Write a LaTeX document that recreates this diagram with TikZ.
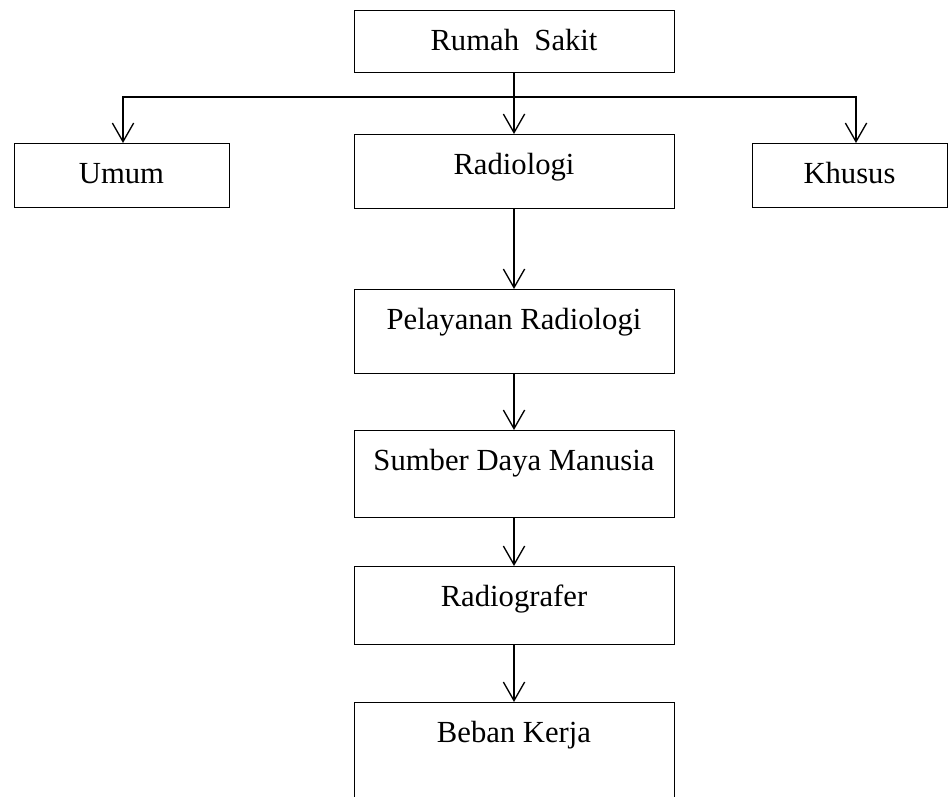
\documentclass[tikz,border=0pt]{standalone}
\usepackage{fontspec}
\setmainfont{Liberation Serif}
\usetikzlibrary{arrows.meta, positioning}

\begin{document}
\begin{tikzpicture}[x=0.75pt, y=-0.75pt,
    box/.style={draw, line width=0.75pt, anchor=north, inner xsep=0pt,
                inner ysep=0pt, minimum width=240pt, text height=30pt,
                font=\fontsize{23}{27}\selectfont},
    arrow/.style={-{Straight Barb[length=14pt, width=16pt]}, line width=1pt},
    branch/.style={{Straight Barb[length=14pt, width=16pt]}-{Straight Barb[length=14pt, width=16pt]},
                   line width=1pt}
  ]
  \useasboundingbox (0,0) rectangle (949,796);

  % top level
  \node[box, text depth=16.5pt] (rs) at (514,10) {Rumah\ \ Sakit};
  \node[box, text depth=25.5pt, below=45.75pt of rs] (radio) {Radiologi};
  \node[box, minimum width=161.25pt, text depth=18pt] (umum) at (121.5,143) {Umum};
  \node[box, minimum width=146.25pt, text depth=18pt] (khusus) at (849.5,143) {Khusus};

  % main column
  \node[box, text depth=33pt, below=60pt of radio] (pel) {Pelayanan Radiologi};
  \node[box, text depth=35.25pt, below=42pt of pel] (sdm) {Sumber Daya Manusia};
  \node[box, text depth=28.5pt, below=36pt of sdm] (rgf) {Radiografer};
  \node[box, text depth=52.5pt, below=42.75pt of rgf] (beban) {Beban Kerja};

  % connectors
  \coordinate (barL) at (123,97);
  \coordinate (barR) at (856,97);
  \draw[branch] (barR |- khusus.north) -- (barR) -- (barL) -- (barL |- umum.north);
  \draw[arrow] (rs.south) -- (radio.north);
  \draw[arrow] (radio) -- (pel);
  \draw[arrow] (pel) -- (sdm);
  \draw[arrow] (sdm) -- (rgf);
  \draw[arrow] (rgf) -- (beban);
\end{tikzpicture}
\end{document}
